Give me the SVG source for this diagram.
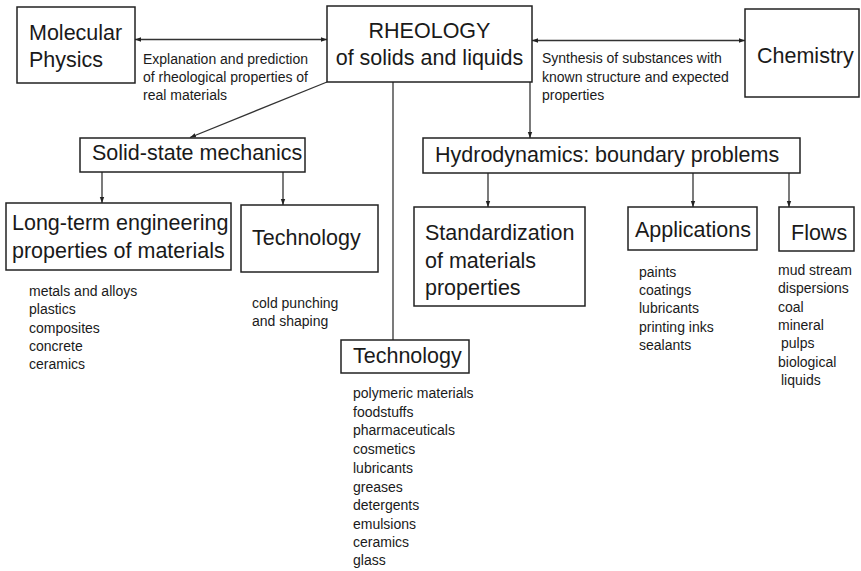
<svg xmlns="http://www.w3.org/2000/svg" width="861" height="571" viewBox="0 0 861 571">
<style>
.box{fill:#fff;stroke:#222;stroke-width:1.5}
.big{font-family:"Liberation Sans",Arial,sans-serif;font-size:21.5px;fill:#1a1a1a}
.sm{font-family:"Liberation Sans",Arial,sans-serif;font-size:14px;fill:#1a1a1a}
.con{fill:none;stroke:#333;stroke-width:1.3}
</style>
<defs>
<marker id="ah" viewBox="0 0 6 6" refX="6" refY="3" markerWidth="6" markerHeight="6" markerUnits="userSpaceOnUse" orient="auto-start-reverse">
<path d="M0,0.8 L6,3 L0,5.2 z" fill="#222"/>
</marker>
</defs>
<rect width="861" height="571" fill="#fff"/>
<g id="connectors">
<path class="con" d="M135,39.5 L327,39.5" marker-start="url(#ah)" marker-end="url(#ah)"/>
<path class="con" d="M532,40.5 L745,40.5" marker-start="url(#ah)" marker-end="url(#ah)"/>
<path class="con" d="M327,82 L190,137.5" marker-end="url(#ah)"/>
<path class="con" d="M393,82 L393,340"/>
<path class="con" d="M530,82 L530,138" marker-end="url(#ah)"/>
<path class="con" d="M102,172 L102,203" marker-end="url(#ah)"/>
<path class="con" d="M283,172 L283,205" marker-end="url(#ah)"/>
<path class="con" d="M488,173 L488,207" marker-end="url(#ah)"/>
<path class="con" d="M693,173 L693,207" marker-end="url(#ah)"/>
<path class="con" d="M789,173 L789,207" marker-end="url(#ah)"/>
</g>
<g id="molecular-physics">
<rect class="box" x="17" y="7" width="118" height="76"/>
<text class="big" x="29" y="40">Molecular</text>
<text class="big" x="29" y="67">Physics</text>
</g>
<g id="rheology">
<rect class="box" x="327" y="6" width="205" height="76"/>
<text class="big" x="429.5" y="38" text-anchor="middle">RHEOLOGY</text>
<text class="big" x="429.5" y="65" text-anchor="middle">of solids and liquids</text>
</g>
<g id="chemistry">
<rect class="box" x="745" y="9" width="114" height="88"/>
<text class="big" x="757" y="63">Chemistry</text>
</g>
<g id="label-explanation">
<text class="sm" x="143" y="64">Explanation and prediction</text>
<text class="sm" x="143" y="82">of rheological properties of</text>
<text class="sm" x="143" y="100">real materials</text>
</g>
<g id="label-synthesis">
<text class="sm" x="542" y="63">Synthesis of substances with</text>
<text class="sm" x="542" y="82">known structure and expected</text>
<text class="sm" x="542" y="100">properties</text>
</g>
<g id="solid-state">
<rect class="box" x="80" y="138" width="225" height="34"/>
<text class="big" x="92" y="160">Solid-state mechanics</text>
</g>
<g id="long-term">
<rect class="box" x="6" y="203" width="225" height="67"/>
<text class="big" x="12" y="230">Long-term engineering</text>
<text class="big" x="12" y="258">properties of materials</text>
<g class="sm">
<text x="29" y="296">metals and alloys</text>
<text x="29" y="314">plastics</text>
<text x="29" y="333">composites</text>
<text x="29" y="351">concrete</text>
<text x="29" y="369">ceramics</text>
</g>
</g>
<g id="technology-solid">
<rect class="box" x="241" y="205" width="137" height="67"/>
<text class="big" x="252" y="245">Technology</text>
<text class="sm" x="252" y="308">cold punching</text>
<text class="sm" x="252" y="326">and shaping</text>
</g>
<g id="technology-center">
<rect class="box" x="341" y="340" width="128" height="33"/>
<text class="big" x="353" y="363">Technology</text>
<g class="sm">
<text x="353" y="398">polymeric materials</text>
<text x="353" y="417">foodstuffs</text>
<text x="353" y="435">pharmaceuticals</text>
<text x="353" y="454">cosmetics</text>
<text x="353" y="473">lubricants</text>
<text x="353" y="492">greases</text>
<text x="353" y="510">detergents</text>
<text x="353" y="529">emulsions</text>
<text x="353" y="547">ceramics</text>
<text x="353" y="565">glass</text>
</g>
</g>
<g id="hydrodynamics">
<rect class="box" x="423" y="138" width="377" height="35"/>
<text class="big" x="435" y="162">Hydrodynamics: boundary problems</text>
</g>
<g id="standardization">
<rect class="box" x="414" y="207" width="171" height="99"/>
<text class="big" x="425" y="240">Standardization</text>
<text class="big" x="425" y="268">of materials</text>
<text class="big" x="425" y="295">properties</text>
</g>
<g id="applications">
<rect class="box" x="628" y="207" width="129" height="43"/>
<text class="big" x="635" y="237">Applications</text>
<g class="sm">
<text x="639" y="277">paints</text>
<text x="639" y="295">coatings</text>
<text x="639" y="313">lubricants</text>
<text x="639" y="332">printing inks</text>
<text x="639" y="350">sealants</text>
</g>
</g>
<g id="flows">
<rect class="box" x="779" y="207" width="75" height="44"/>
<text class="big" x="791" y="240">Flows</text>
<g class="sm">
<text x="778" y="275">mud stream</text>
<text x="778" y="293">dispersions</text>
<text x="778" y="312">coal</text>
<text x="778" y="330">mineral</text>
<text x="781" y="348">pulps</text>
<text x="778" y="367">biological</text>
<text x="781" y="385">liquids</text>
</g>
</g>
</svg>
